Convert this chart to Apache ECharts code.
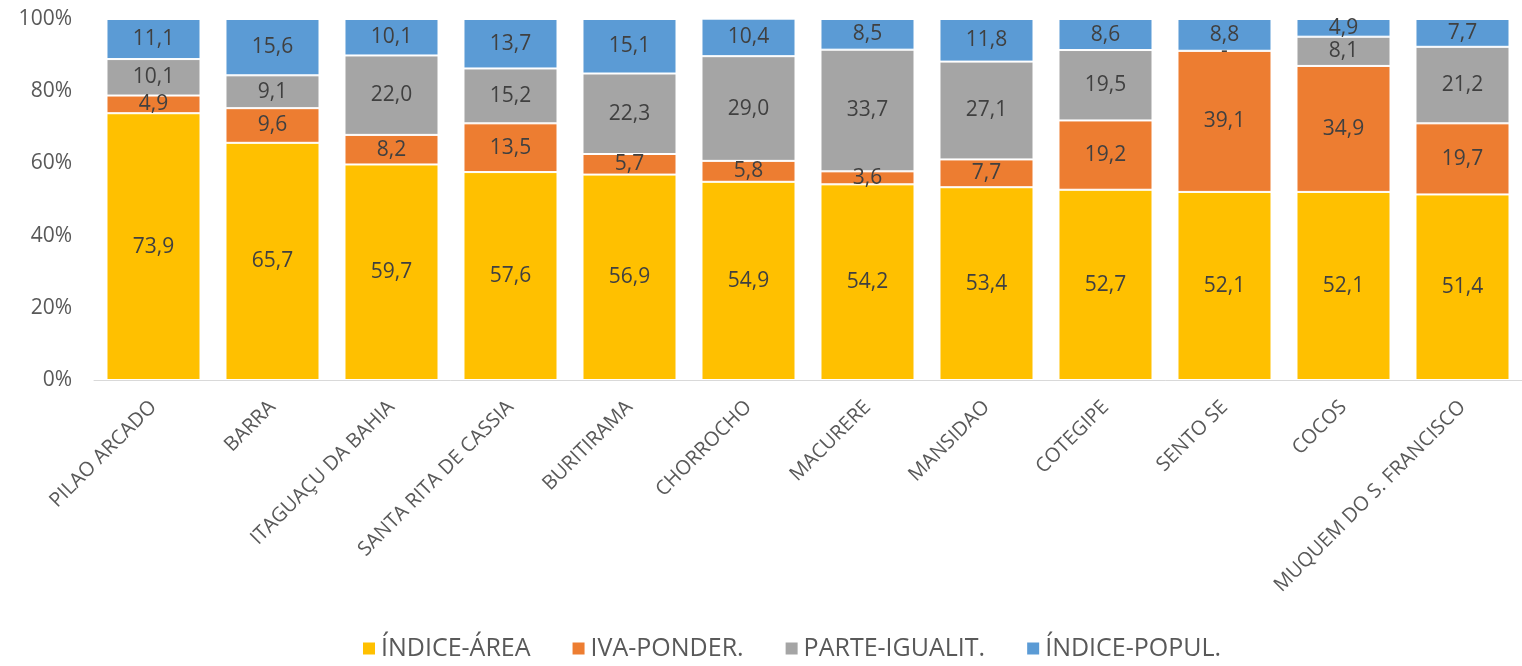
<!DOCTYPE html>
<html>
<head>
<meta charset="utf-8">
<script src="https://cdn.jsdelivr.net/npm/echarts@6/dist/echarts.min.js"></script>
<style>html,body{margin:0;padding:0;background:#fff;}#c{width:1522px;height:666px;}</style>
</head>
<body>
<div id="c"></div>
<script>
const categories = ['PILAO ARCADO','BARRA','ITAGUAÇU DA BAHIA','SANTA RITA DE CASSIA','BURITIRAMA','CHORROCHO','MACURERE','MANSIDAO','COTEGIPE','SENTO SE','COCOS','MUQUEM DO S. FRANCISCO'];
const seriesNames = ['ÍNDICE-ÁREA','IVA-PONDER.','PARTE-IGUALIT.','ÍNDICE-POPUL.'];
const indiceArea = [73.9,65.7,59.7,57.6,56.9,54.9,54.2,53.4,52.7,52.1,52.1,51.4];
const ivaPonder = [4.9,9.6,8.2,13.5,5.7,5.8,3.6,7.7,19.2,39.1,34.9,19.7];
const parteIgualit = [10.1,9.1,22.0,15.2,22.3,29.0,33.7,27.1,19.5,0,8.1,21.2];
const indicePopul = [11.1,15.6,10.1,13.7,15.1,10.4,8.5,11.8,8.6,8.8,4.9,7.7];
const yTicks = [0,20,40,60,80,100];
const colors = ['#FFC000','#ED7D31','#A5A5A5','#5B9BD5'];

const FONT = '"Open Sans", "Liberation Sans", sans-serif';
const dataSets = [indiceArea, ivaPonder, parteIgualit, indicePopul];
const chart = echarts.init(document.getElementById('c'));
chart.setOption({
  animation: false,
  grid: {left: 94, right: 0, top: 19, bottom: 286, containLabel: false},
  legend: {
    bottom: 0, left: 356, itemWidth: 14, itemHeight: 14, itemGap: 40,
    icon: 'rect',
    textStyle: {fontFamily: FONT, fontSize: 25, color: '#595959'},
    data: seriesNames
  },
  xAxis: {
    type: 'category', data: categories,
    axisLine: {lineStyle: {color: '#D9D9D9', width: 1}},
    axisTick: {show: false},
    axisLabel: {rotate: 45, interval: 0, fontFamily: FONT, fontSize: 20, color: '#595959', margin: 24}
  },
  yAxis: {
    type: 'value', min: yTicks[0], max: yTicks[yTicks.length-1], interval: 20,
    splitLine: {show: false},
    axisLine: {show: false}, axisTick: {show: false},
    axisLabel: {formatter: '{value}%', fontFamily: FONT, fontSize: 21, color: '#595959', margin: 22}
  },
  series: dataSets.map((d, i) => ({
    name: seriesNames[i], type: 'bar', stack: 'total', data: d,
    barCategoryGap: '21%',
    itemStyle: {color: colors[i], borderColor: '#fff', borderWidth: 1},
    label: {
      show: true, position: 'inside', fontFamily: FONT, fontSize: 21, color: '#404040',
      formatter: p => p.value === 0 ? '-' : p.value.toFixed(1).replace('.', ',')
    }
  }))
});
</script>
</body>
</html>
